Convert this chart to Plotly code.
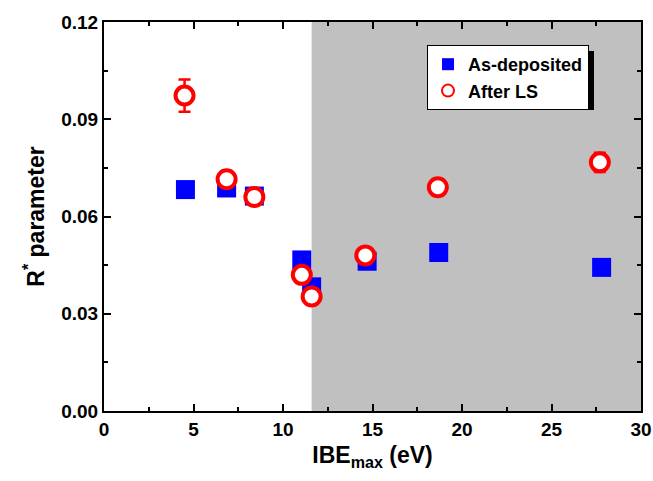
import plotly.graph_objects as go

ibe_dep = [4.55, 6.85, 8.4, 11.05, 11.6, 14.7, 18.7, 27.8]
r_dep = [0.0683, 0.0688, 0.0663, 0.0466, 0.0383, 0.0462, 0.0489, 0.0443]
err_dep = [0.0022, 0.0018, 0.0015, 0.001, 0.001, 0.001, 0.001, 0.001]

ibe_ls = [4.5, 6.85, 8.4, 11.05, 11.6, 14.6, 18.65, 27.7]
r_ls = [0.0973, 0.0715, 0.0660, 0.0420, 0.0353, 0.0480, 0.0690, 0.0767]
err_ls = [0.0050, 0.0025, 0.0020, 0.0010, 0.0012, 0.0010, 0.0025, 0.0030]

shade_start = 11.6
x_range = [0, 30]
y_range = [0, 0.12]
x_ticks = [0, 5, 10, 15, 20, 25, 30]
y_ticks = [0.00, 0.03, 0.06, 0.09, 0.12]

font = "Arial, Liberation Sans, sans-serif"

fig = go.Figure()
fig.add_shape(type="rect", xref="x", yref="y", x0=shade_start, x1=x_range[1],
              y0=y_range[0], y1=y_range[1], fillcolor="#c0c0c0", line_width=0, layer="below")

fig.add_trace(go.Scatter(
    x=ibe_dep, y=r_dep, mode="markers", name="As-deposited",
    marker=dict(symbol="square", size=19, color="#0000ff", line=dict(width=0)),
    error_y=dict(type="data", array=err_dep, color="#0000ff", thickness=2, width=6),
))
fig.add_trace(go.Scatter(
    x=ibe_ls, y=r_ls, mode="markers", name="After LS",
    marker=dict(symbol="circle", size=18, color="white", line=dict(width=4, color="#ff0000")),
    error_y=dict(type="data", array=err_ls, color="#ff0000", thickness=2.5, width=6),
))

# legend shadow (pixel offsets converted to paper coords)
pw, ph = 537, 389
lx0, ly0, lw, lh = 427, 45, 161, 59
fig.add_shape(type="rect", xref="paper", yref="paper",
              x0=(lx0 + 6 - 104) / pw, x1=(lx0 + lw + 6 - 104) / pw,
              y0=(411 - (ly0 + lh + 6)) / ph, y1=(411 - (ly0 + 6)) / ph,
              fillcolor="black", line_width=0, layer="above")

axis_common = dict(
    showline=True, linecolor="black", linewidth=2, mirror="ticks",
    ticks="inside", ticklen=7, tickwidth=2, tickcolor="black",
    showgrid=False, zeroline=False, automargin=False,
    tickfont=dict(family=font, size=19, color="black", weight="bold"),
)

fig.update_layout(
    width=653, height=481,
    margin=dict(l=104, r=12, t=22, b=70),
    plot_bgcolor="white", paper_bgcolor="white",
    showlegend=True,
    legend=dict(x=(lx0 - 104) / pw, y=(411 - ly0) / ph, xanchor="left", yanchor="top",
                bgcolor="white", bordercolor="black", borderwidth=1,
                font=dict(family=font, size=18, color="black", weight="bold"),
                tracegroupgap=0, itemsizing="constant"),
    xaxis=dict(range=x_range, tickvals=x_ticks, ticktext=[str(v) for v in x_ticks],
               minor=dict(ticks="inside", ticklen=4, tickwidth=2, tickcolor="black", dtick=2.5),
               title=dict(text="IBE<sub>max</sub> (eV)", standoff=8,
                          font=dict(family=font, size=23, color="black", weight="bold")),
               **axis_common),
    yaxis=dict(range=y_range, tickvals=y_ticks, ticktext=[f"{v:.2f}" for v in y_ticks],
               minor=dict(ticks="inside", ticklen=4, tickwidth=2, tickcolor="black", dtick=0.015),
               title=dict(text="R<sup>*</sup> parameter", standoff=10,
                          font=dict(family=font, size=23, color="black", weight="bold")),
               **axis_common),
)

fig.write_html("out.html", config={"displayModeBar": False},
               post_script="document.body.style.margin='0px';")
